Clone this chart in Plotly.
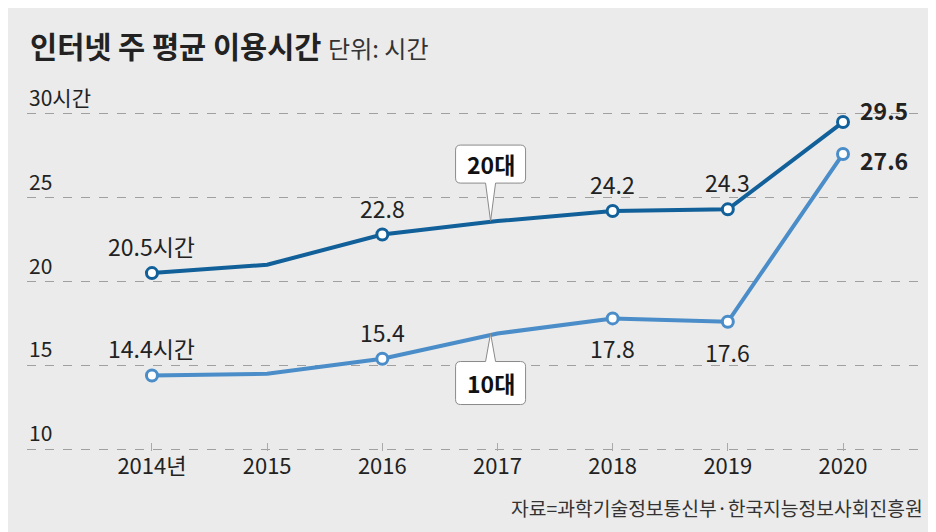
import plotly.graph_objects as go

years = [2014, 2015, 2016, 2017, 2018, 2019, 2020]
year_labels = ["2014년", "2015", "2016", "2017", "2018", "2019", "2020"]
twenties = [20.5, 21.0, 22.8, 23.6, 24.2, 24.3, 29.5]
teens = [14.4, 14.5, 15.4, 16.9, 17.8, 17.6, 27.6]
marked = [True, False, True, False, True, True, True]
twenties_labels = ["20.5시간", None, "22.8", None, "24.2", "24.3", "29.5"]
teens_labels = ["14.4시간", None, "15.4", None, "17.8", "17.6", "27.6"]
y_ticks = [10, 15, 20, 25, 30]
y_tick_text = ["10", "15", "20", "25", "30시간"]

C20 = "#11609a"
C10 = "#4a8dc8"
BG = "#ebebeb"
NUMFONT = "Noto Sans CJK KR, sans-serif"
KFONT = "Noto Sans CJK KR, sans-serif"

W, H = 936, 532
L, R, T, B = 19, 19, 104, 89

fig = go.Figure()
for vals, col in [(twenties, C20), (teens, C10)]:
    fig.add_trace(go.Scatter(x=years, y=vals, mode="lines",
                             line=dict(color=col, width=4), hoverinfo="skip",
                             cliponaxis=False))
    mx = [x for x, m in zip(years, marked) if m]
    my = [v for v, m in zip(vals, marked) if m]
    fig.add_trace(go.Scatter(x=mx, y=my, mode="markers",
                             marker=dict(size=11, color="white",
                                         line=dict(color=col, width=3)),
                             hoverinfo="skip", cliponaxis=False))

annotations = []
for v, t in zip(y_ticks, y_tick_text):
    annotations.append(dict(x=0, xref="paper", y=v, yref="y", text=t,
                            xanchor="left", yanchor="bottom", yshift=0,
                            showarrow=False,
                            font=dict(family=NUMFONT, size=21, color="#222")))

def add_labels(labels, vals, below_idx, right_shift):
    for i, (x, v, lab) in enumerate(zip(years, vals, labels)):
        if lab is None:
            continue
        if i == len(years) - 1:
            annotations.append(dict(x=x, y=v, text="<b>" + lab + "</b>",
                                    xanchor="left", yanchor="middle",
                                    xshift=15, yshift=right_shift, showarrow=False,
                                    font=dict(family=NUMFONT, size=23, color="#222")))
        elif i in below_idx:
            annotations.append(dict(x=x, y=v, text=lab, xanchor="center",
                                    yanchor="middle", yshift=-30, showarrow=False,
                                    font=dict(family=NUMFONT, size=23, color="#222")))
        else:
            annotations.append(dict(x=x, y=v, text=lab, xanchor="center",
                                    yanchor="middle", yshift=27, showarrow=False,
                                    font=dict(family=NUMFONT, size=23, color="#222")))

add_labels(twenties_labels, twenties, [], 12)
add_labels(teens_labels, teens, [4, 5], -6)

shapes = []
callout_up = ("M 0,0 L 5,38 L 30,38 Q 35,38 35,43 L 35,71 Q 35,76 30,76 "
              "L -30,76 Q -35,76 -35,71 L -35,43 Q -35,38 -30,38 L -5,38 Z")
callout_down = ("M 0,0 L 5,-28 L 30,-28 Q 35,-28 35,-33 L 35,-66 Q 35,-71 30,-71 "
                "L -30,-71 Q -35,-71 -35,-66 L -35,-33 Q -35,-28 -30,-28 L -5,-28 Z")
ci = years.index(2017)
pw = W - L - R
ph = H - T - B
for path, val, label, dy in [(callout_up, twenties[ci], "20대", 57),
                             (callout_down, teens[ci], "10대", -49)]:
    shapes.append(dict(type="path", xref="x", yref="y", xsizemode="pixel",
                       ysizemode="pixel", xanchor=years[ci] - 0.06, yanchor=val,
                       path=path, fillcolor="white",
                       line=dict(color="#8a8a8a", width=1), layer="above"))
    annotations.append(dict(x=years[ci] - 0.06, y=val, text="<b>" + label + "</b>",
                            xanchor="center", yanchor="middle", yshift=dy,
                            showarrow=False,
                            font=dict(family=NUMFONT, size=23, color="#111")))

annotations.append(dict(x=(20 - L) / pw, xref="paper", y=(H - 37 - B) / ph, yref="paper",
                        text="<b>인터넷 주 평균 이용시간</b> <span style='font-size:24px;color:#333'>단위: 시간</span>",
                        xanchor="left", yanchor="middle", showarrow=False,
                        font=dict(family=KFONT, size=29.5, color="#222")))
annotations.append(dict(x=(917 - L) / pw, xref="paper", y=(H - 500 - B) / ph, yref="paper",
                        text="자료=과학기술정보통신부·한국지능정보사회진흥원",
                        xanchor="right", yanchor="middle", showarrow=False,
                        font=dict(family=KFONT, size=19.3, color="#333")))

fig.update_layout(
    width=W, height=H,
    margin=dict(l=L, r=R, t=T, b=B, pad=0),
    paper_bgcolor=BG, plot_bgcolor=BG,
    showlegend=False,
    shapes=shapes, annotations=annotations,
    xaxis=dict(range=[2012.915, 2020.712], tickvals=years, ticktext=year_labels,
               showgrid=False, zeroline=False, showline=False,
               ticks="inside", ticklen=8, tickcolor="#aaa", tickwidth=1,
               tickfont=dict(family=NUMFONT, size=22, color="#222"),
               fixedrange=True),
    yaxis=dict(range=[9.9, 30.1], tickvals=y_ticks, showticklabels=False,
               showgrid=True, gridcolor="#a0a0a0", griddash="dash", gridwidth=1,
               zeroline=False, showline=False, ticks="", fixedrange=True),
)

fig.write_html("out.html")
